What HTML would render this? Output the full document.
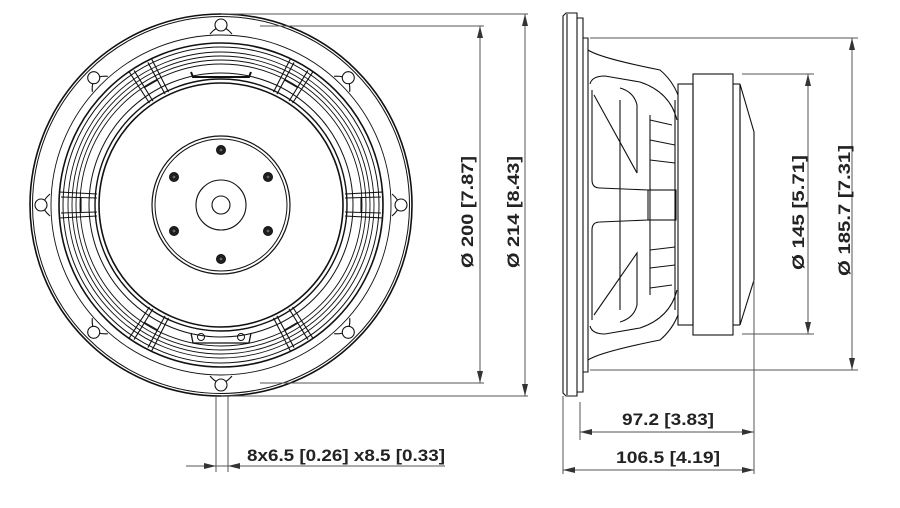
<!DOCTYPE html>
<html><head><meta charset="utf-8"><style>
html,body{margin:0;padding:0;background:#fff}
svg{display:block}
text{font-family:"Liberation Sans",sans-serif;fill:#222;font-weight:bold}
</style></head><body>
<svg width="900" height="508" viewBox="0 0 900 508" xmlns="http://www.w3.org/2000/svg">
<defs>
<g id="spoke" fill="none" stroke="#111" stroke-width="1.1">
  <line x1="124" y1="-11" x2="162" y2="-13"/>
  <line x1="124" y1="11" x2="162" y2="13"/>
  <line x1="124" y1="-7" x2="160" y2="-8"/>
  <line x1="124" y1="7" x2="160" y2="8"/>
  <line x1="140" y1="-8" x2="140" y2="8"/>
</g>
<g id="hole" fill="#fff" stroke="#111" stroke-width="1.1">
  <path d="M171 -11 Q178 -5 178 0 Q178 5 171 11"/>
  <circle cx="180" cy="0" r="6"/>
</g>
<g id="bolt"><circle r="4.5" fill="#222"/><circle r="2" fill="#666"/></g>
</defs>

<g transform="translate(221,205)" fill="none" stroke="#111">
  <circle r="191" stroke-width="1.6"/>
  <circle r="188.5" stroke-width="1"/>
  <circle r="170" stroke-width="0.9"/>
  <circle r="162" stroke-width="1.6"/>
  <circle r="158" stroke-width="1"/>
  <circle r="153" stroke-width="0.9"/>
  <circle r="149" stroke-width="0.9"/>
  <circle r="145" stroke-width="0.9"/>
  <circle r="141" stroke-width="0.9"/>
  <circle r="132" stroke-width="1"/>
  <circle r="126" stroke-width="1.4"/>
  <circle r="122" stroke-width="1.6"/>
  <use href="#spoke"/>
  <use href="#spoke" transform="rotate(60)"/>
  <use href="#spoke" transform="rotate(120)"/>
  <use href="#spoke" transform="rotate(180)"/>
  <use href="#spoke" transform="rotate(240)"/>
  <use href="#spoke" transform="rotate(300)"/>
  <use href="#hole"/>
  <use href="#hole" transform="rotate(45)"/>
  <use href="#hole" transform="rotate(90)"/>
  <use href="#hole" transform="rotate(135)"/>
  <use href="#hole" transform="rotate(180)"/>
  <use href="#hole" transform="rotate(225)"/>
  <use href="#hole" transform="rotate(270)"/>
  <use href="#hole" transform="rotate(315)"/>
  <path d="M-30 -133 L-28 -128 L28 -128 L30 -133" stroke-width="2"/>
  <path d="M-30 128 L-28 138 L28 138 L30 128" stroke-width="1.3"/>
  <circle cx="-20" cy="132" r="3.5" stroke-width="1"/>
  <circle cx="20" cy="132" r="3.5" stroke-width="1"/>
  <circle r="69" stroke-width="1.2"/>
  <circle r="66" stroke-width="1"/>
  <circle r="25" stroke-width="1.1"/>
  <circle r="9" stroke-width="1.1"/>
  <use href="#bolt" x="0" y="-55"/>
  <use href="#bolt" x="-47" y="-28"/>
  <use href="#bolt" x="47" y="-28"/>
  <use href="#bolt" x="-47" y="26"/>
  <use href="#bolt" x="47" y="26"/>
  <use href="#bolt" x="0" y="54"/>
</g>

<g stroke="#555" stroke-width="1" fill="none">
  <line x1="221" y1="14" x2="528" y2="14"/>
  <line x1="260" y1="26" x2="484" y2="26"/>
  <line x1="260" y1="383" x2="484" y2="383"/>
  <line x1="221" y1="396" x2="528" y2="396"/>
  <line x1="480" y1="26" x2="480" y2="383"/>
  <line x1="525" y1="14" x2="525" y2="396"/>
  <line x1="216" y1="396" x2="216" y2="472"/>
  <line x1="228" y1="396" x2="228" y2="472"/>
  <line x1="186" y1="466" x2="445" y2="466"/>
</g>
<g fill="#333">
  <path d="M480 26 l-3 12 h6z"/><path d="M480 383 l-3 -12 h6z"/>
  <path d="M525 14 l-3 12 h6z"/><path d="M525 396 l-3 -12 h6z"/>
  <path d="M216 466 l-12 -3 v6z"/><path d="M228 466 l12 -3 v6z"/>
</g>
<text transform="translate(473,268) rotate(-90)" font-size="17" textLength="112" lengthAdjust="spacingAndGlyphs">Ø 200 [7.87]</text>
<text transform="translate(519,268) rotate(-90)" font-size="17" textLength="112" lengthAdjust="spacingAndGlyphs">Ø 214 [8.43]</text>
<text x="247" y="461" font-size="17" textLength="198" lengthAdjust="spacingAndGlyphs">8x6.5 [0.26] x8.5 [0.33]</text>

<g fill="none" stroke="#111" stroke-width="1.1">
  <path d="M563 16 L566 13 L577 13 L577 396 L566 396 L563 393 Z"/>
  <line x1="567" y1="14" x2="567" y2="395"/>
  <path d="M577 18 L583 18 L583 392 L577 392"/>
  <path d="M583 38 L588 38 L588 372 L583 372"/>
  <path d="M588 50 Q600 58 660 70 Q672 80 678 95"/>
  <path d="M588 360 Q600 352 660 340 Q672 330 678 315"/>
  <path d="M590 84 Q592 76 605 76 L640 82 Q670 92 677 120"/>
  <path d="M590 326 Q592 334 605 334 L640 328 Q670 318 677 290"/>
  <path d="M592 90 L592 180 Q592 188 600 188 L648 190"/>
  <path d="M592 320 L592 230 Q592 222 600 222 L648 220"/>
  <path d="M594 95 L637 173 L637 105 Q634 92 620 88"/>
  <path d="M594 315 L637 253 L637 305 Q634 318 620 322"/>
  <line x1="620" y1="100" x2="620" y2="310"/>
  <line x1="650" y1="115" x2="650" y2="295"/>
  <path d="M650 120 L672 125 M650 140 L675 145 M650 160 L675 163 M650 250 L675 247 M650 268 L675 265 M650 288 L672 285"/>
  <rect x="648" y="190" width="28" height="30"/>
  <line x1="675" y1="100" x2="675" y2="310"/>
  <rect x="678" y="84" width="15" height="241"/>
  <rect x="693" y="74" width="40" height="261"/>
  <line x1="733" y1="84" x2="740" y2="84"/>
  <line x1="733" y1="325" x2="740" y2="325"/>
  <path d="M740 84 L754 132 L754 280 L740 325 Z"/>
  <line x1="740" y1="84" x2="740" y2="325"/>
</g>
<g stroke="#555" stroke-width="1" fill="none">
  <line x1="590" y1="38" x2="858" y2="38"/>
  <line x1="590" y1="370" x2="858" y2="370"/>
  <line x1="852" y1="38" x2="852" y2="370"/>
  <line x1="742" y1="74" x2="814" y2="74"/>
  <line x1="742" y1="334" x2="814" y2="334"/>
  <line x1="808" y1="74" x2="808" y2="334"/>
  <line x1="563" y1="396" x2="563" y2="474"/>
  <line x1="580" y1="402" x2="580" y2="440"/>
  <line x1="754" y1="280" x2="754" y2="474"/>
  <line x1="580" y1="432" x2="754" y2="432"/>
  <line x1="563" y1="470" x2="754" y2="470"/>
</g>
<g fill="#333">
  <path d="M852 38 l-3 12 h6z"/><path d="M852 370 l-3 -12 h6z"/>
  <path d="M808 74 l-3 12 h6z"/><path d="M808 334 l-3 -12 h6z"/>
  <path d="M580 432 l12 -3 v6z"/><path d="M754 432 l-12 -3 v6z"/>
  <path d="M563 470 l12 -3 v6z"/><path d="M754 470 l-12 -3 v6z"/>
</g>
<text transform="translate(804,270) rotate(-90)" font-size="17" textLength="115" lengthAdjust="spacingAndGlyphs">Ø 145 [5.71]</text>
<text transform="translate(850,276) rotate(-90)" font-size="17" textLength="131" lengthAdjust="spacingAndGlyphs">Ø 185.7 [7.31]</text>
<text x="622" y="425" font-size="17" textLength="92" lengthAdjust="spacingAndGlyphs">97.2 [3.83]</text>
<text x="616" y="463" font-size="17" textLength="104" lengthAdjust="spacingAndGlyphs">106.5 [4.19]</text>
</svg>
</body></html>
